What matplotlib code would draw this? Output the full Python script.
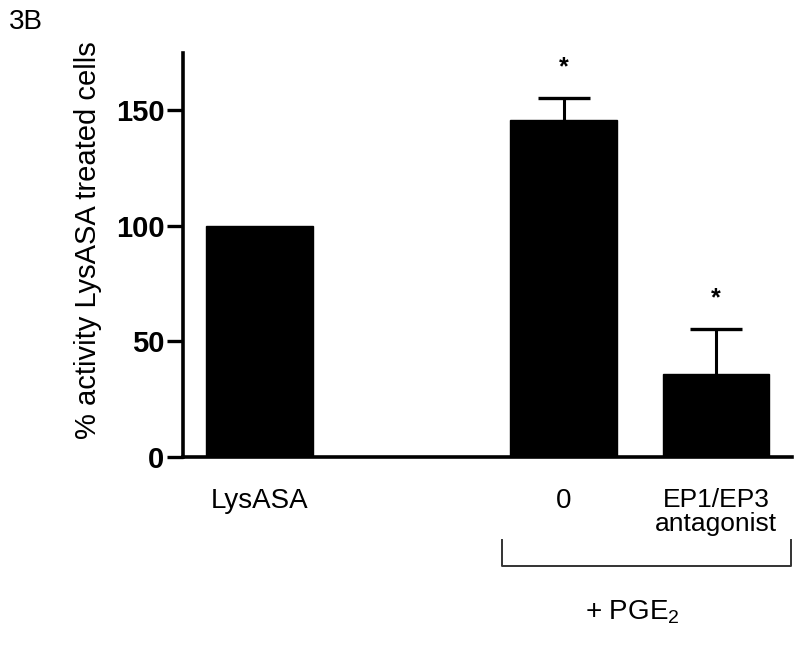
import matplotlib
matplotlib.use("Agg")
import matplotlib.pyplot as plt

plt.rcParams['font.family'] = ['Liberation Sans', 'DejaVu Sans']

# values
positions = [0, 2, 3]
values = [100, 146, 36]
err_upper = [0, 9.5, 19.5]
tick_labels = ["LysASA", "0", "EP1/EP3\nantagonist"]
stars = [None, "*", "*"]

fig = plt.figure(figsize=(8, 6.45), dpi=100)
ax = fig.add_axes([0.229, 0.2915, 0.761, 0.626])

ax.bar(positions, values, width=0.7, color="black", edgecolor="black", zorder=2)
eb = ax.errorbar(positions[1:], values[1:], yerr=[[0, 0], err_upper[1:]],
                 fmt="none", ecolor="black", elinewidth=2.2, capsize=19, capthick=2.4, zorder=1)
# only the upper cap is shown in the original
eb[1][0].set_visible(False)

for x, v, e, s in zip(positions, values, err_upper, stars):
    if s:
        ax.text(x, v + e + 13, s, ha="center", va="center", fontsize=18, fontweight="bold")

ax.set_xlim(-0.5, 3.5)
ax.set_ylim(0, 174.7)
ax.set_yticks([0, 50, 100, 150])
ax.tick_params(axis="y", length=11.5, width=2.4, labelsize=21, pad=2)
for lbl in ax.get_yticklabels():
    lbl.set_fontweight("bold")

ax.set_xticks(positions)
ax.set_xticklabels(tick_labels, fontsize=20, linespacing=1.05)
ax.get_xticklabels()[2].set_fontsize(19)
ax.tick_params(axis="x", length=0, pad=22)

for side in ["top", "right"]:
    ax.spines[side].set_visible(False)
for side in ["left", "bottom"]:
    ax.spines[side].set_linewidth(2.6)

fig.text(88 / 800, 1 - 240 / 645, "% activity LysASA treated cells", rotation=90,
         ha="center", va="center", fontsize=21)
fig.text(9 / 800, 1 - 22 / 645, "3B", ha="left", va="center", fontsize=20)

# bracket under the PGE2 group
bx0, bx1 = 1.593, 3.495
ax.plot([bx0, bx0, bx1, bx1], [-35.9, -47.1, -47.1, -35.9], color="#333333",
        lw=1.4, clip_on=False)
ax.text(2.45, -67, "+ PGE$\\mathregular{_2}$", ha="center", va="center", fontsize=20)

fig.savefig("out.png", dpi=100)
